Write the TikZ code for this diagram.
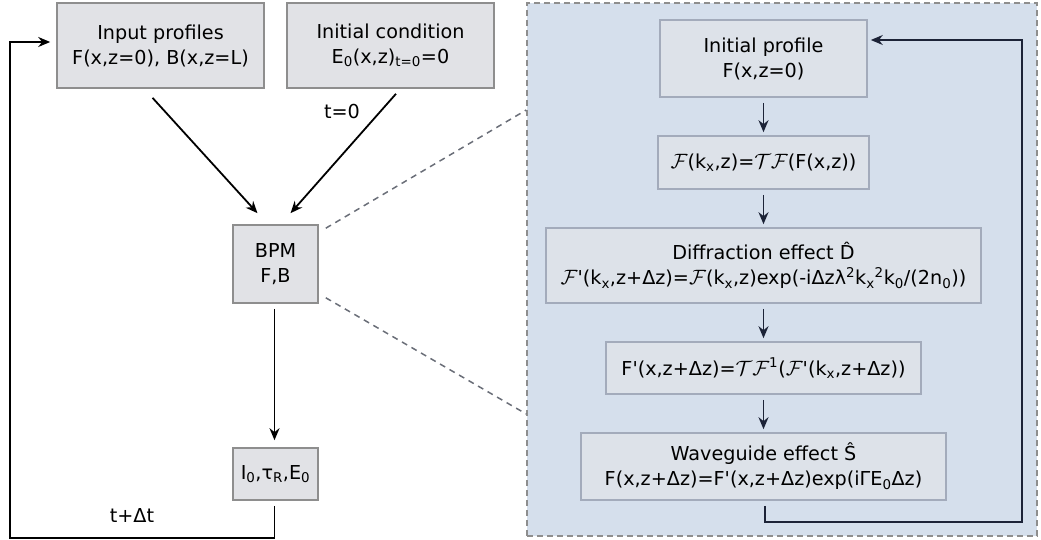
\documentclass[tikz,border=0pt]{standalone}
\usepackage{fontspec}
\setmainfont{DejaVu Sans}
\usepackage{xcolor}
\usetikzlibrary{arrows.meta,positioning}
\definecolor{boxfill}{HTML}{E1E2E6}
\definecolor{boxline}{HTML}{8E8E8E}
\definecolor{panelfill}{HTML}{D5DFEC}
\definecolor{innerfill}{HTML}{DDE2E9}
\definecolor{innerline}{HTML}{A3ABBB}
\definecolor{navy}{HTML}{1C2337}
\definecolor{zoomline}{HTML}{6A6E78}
\newcommand{\sbx}[1]{\textsubscript{#1}}
\newcommand{\spx}[1]{\textsuperscript{#1}}
\newcommand{\cF}{$\mathcal{F}$}
\newcommand{\cT}{$\mathcal{T}$}

\begin{document}
\begin{tikzpicture}[x=1pt,y=-1pt,
  font=\fontsize{19.2}{25}\selectfont,
  outbox/.style={draw=boxline,fill=boxfill,line width=1.6pt,inner sep=0pt,align=center},
  inbox/.style={draw=innerline,fill=innerfill,line width=1.6pt,inner sep=0pt,align=center},
  flow/.style={-{Stealth[length=12pt,width=10pt]},line width=1.8pt,black},
  loopline/.style={line width=1.8pt,navy},
  zoomdash/.style={zoomline,line width=1.5pt,dash pattern=on 6pt off 5pt}]
\useasboundingbox (0,0) rectangle (1041,540);
% zoomed panel
\node[draw=boxline,fill=panelfill,line width=1.5pt,dash pattern=on 6pt off 4pt,minimum width=510pt,minimum height=533pt,inner sep=0pt] (panel) at (782,269.5) {};
% left chain
\node[outbox,minimum width=207pt,minimum height=85pt] (inp) at (160.5,45.5) {Input profiles\\F(x,z=0), B(x,z=L)};
\node[outbox,minimum width=207pt,minimum height=85pt] (init) at (390.5,45.5) {Initial condition\\E\sbx{0}(x,z)\sbx{t=0}=0};
\node[outbox,minimum width=85pt,minimum height=78pt] (bpm) at (275.5,264) {BPM\\F,B};
\node[outbox,minimum width=85pt,minimum height=52pt] (out) at (275.5,474) {I\sbx{0},τ\sbx{R},E\sbx{0}};
\node (tzero) at (342,112) {t=0};
\node (tstep) at (132,515) {t+Δt};
\draw[flow] ([xshift=-8pt,yshift=-9pt]inp.south)--([xshift=-18pt,yshift=11pt]bpm.north);
\draw[flow] ([xshift=5.5pt,yshift=-5pt]init.south)--([xshift=15pt,yshift=11pt]bpm.north);
\draw[flow] ([xshift=-1pt,yshift=-5pt]bpm.south)--([xshift=-1pt,yshift=7pt]out.north);
\coordinate (c1) at ([xshift=-1pt]out.south |- 0,538);
\coordinate (c2) at (10,538);
\coordinate (c3) at (10,42);
\draw[flow] ([xshift=-1pt,yshift=-5pt]out.south)--(c1)--(c2)--(c3)--([xshift=-6pt,yshift=3.5pt]inp.west);
% zoom lines
\coordinate (z1) at (panel.west |- 0,110);
\coordinate (z2) at (panel.west |- 0,414);
\draw[zoomdash] ([xshift=7pt,yshift=-4pt]bpm.north east)--(z1)
  ([xshift=7pt,yshift=6pt]bpm.south east)--(z2);
% inner chain
\node[inbox,minimum width=207pt,minimum height=77pt] (prof) at (763.5,58.5) {Initial profile\\F(x,z=0)};
\node[inbox,minimum width=211pt,minimum height=53pt] (fft) at (763.5,162.5) {\cF(k\sbx{x},z)=\cT\cF(F(x,z))};
\node[inbox,minimum width=435pt,minimum height=75pt] (diff) at (763.5,265.5) {Diffraction effect \^D\\\cF\textquotesingle(k\sbx{x},z+Δz)=\cF(k\sbx{x},z)exp(-iΔzλ\spx{2}k\sbx{x}\spx{2}k\sbx{0}/(2n\sbx{0}))};
\node[inbox,minimum width=315pt,minimum height=52pt] (ifft) at (763.5,368) {F\textquotesingle(x,z+Δz)=\cT\cF\spx{1}(\cF\textquotesingle(k\sbx{x},z+Δz))};
\node[inbox,minimum width=365pt,minimum height=67pt] (wave) at (763.5,466.5) {Waveguide effect Ŝ\\F(x,z+Δz)=F\textquotesingle(x,z+Δz)exp(iΓE\sbx{0}Δz)};
\foreach \a/\b in {prof/fft,fft/diff,diff/ifft,ifft/wave}
  \draw[flow,navy] ([yshift=-5pt]\a.south)--([yshift=3pt]\b.north);
\coordinate (r1) at ([xshift=1.5pt]wave.south |- 0,522);
\coordinate (r2) at (1022,522);
\coordinate (r3) at (1022,40);
\draw[loopline,-{Stealth[length=12pt,width=10pt]}] ([xshift=1.5pt,yshift=-5pt]wave.south)--(r1)--(r2)--(r3)--([xshift=3pt]prof.east |- 0,40);
\end{tikzpicture}
\end{document}
